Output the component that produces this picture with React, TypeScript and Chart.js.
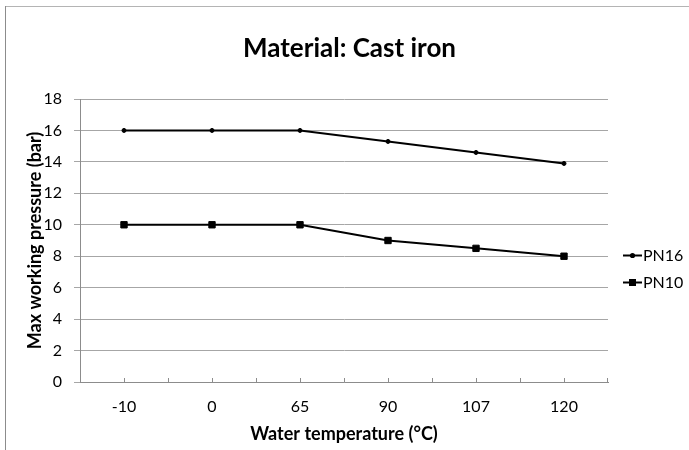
import React, { useEffect, useRef } from 'react';
import { Chart, registerables } from 'chart.js';

Chart.register(...registerables);

const categories = ['-10', '0', '65', '90', '107', '120'];
const pn16 = [16, 16, 16, 15.3, 14.6, 13.9];
const pn10 = [10, 10, 10, 9, 8.5, 8];
const yMin = 0;
const yMax = 18;
const yStep = 2;
const titleText = 'Material: Cast iron';
const xTitle = 'Water temperature (°C)';
const yTitle = 'Max working pressure (bar)';
const seriesNames = ['PN16', 'PN10'];

const FONT = 'Lato, "Open Sans", sans-serif';

const framePlugin = {
  id: 'frame',
  beforeDraw(chart: any) {
    const ctx = chart.ctx;
    ctx.save();
    ctx.fillStyle = '#ffffff';
    ctx.fillRect(0, 0, chart.width, chart.height);
    ctx.strokeStyle = '#b4b4b4';
    ctx.lineWidth = 1;
    ctx.beginPath();
    ctx.moveTo(5, 6.5);
    ctx.lineTo(chart.width, 6.5);
    ctx.stroke();
    ctx.strokeStyle = '#8c8c8c';
    ctx.beginPath();
    ctx.moveTo(5.5, 6);
    ctx.lineTo(5.5, chart.height);
    ctx.stroke();
    ctx.restore();
  },
};

const titlePlugin = {
  id: 'chartTitle',
  afterDraw(chart: any) {
    const ctx = chart.ctx;
    ctx.save();
    ctx.fillStyle = '#000';
    ctx.font = 'bold 26px ' + FONT;
    ctx.textAlign = 'center';
    ctx.textBaseline = 'middle';
    ctx.fillText(titleText, chart.width / 2 + 5, 49);
    ctx.restore();
  },
};

const xTicksPlugin = {
  id: 'xInnerTicks',
  afterDatasetsDraw(chart: any) {
    const ctx = chart.ctx;
    const xs = chart.scales.x;
    const bottom = chart.chartArea.bottom;
    const n = categories.length;
    const half = (xs.getPixelForValue(1) - xs.getPixelForValue(0)) / 2;
    ctx.save();
    ctx.strokeStyle = '#8c8c8c';
    ctx.lineWidth = 1;
    ctx.beginPath();
    for (let i = 0; i < n; i++) {
      const c = Math.round(xs.getPixelForValue(i)) + 0.5;
      ctx.moveTo(c, bottom);
      ctx.lineTo(c, bottom - 4);
      const b = Math.round(xs.getPixelForValue(i) - half) + 0.5;
      ctx.moveTo(b, bottom);
      ctx.lineTo(b, bottom - 4);
    }
    const e = Math.round(xs.getPixelForValue(n - 1) + half) - 0.5;
    ctx.moveTo(e, bottom);
    ctx.lineTo(e, bottom - 4);
    ctx.stroke();
    ctx.restore();
  },
};

const legendPlugin = {
  id: 'customLegend',
  afterDraw(chart: any) {
    const ctx = chart.ctx;
    const area = chart.chartArea;
    const x0 = area.right + 15;
    const rowsY = [area.top + 156, area.top + 183];
    ctx.save();
    chart.data.datasets.forEach((ds: any, i: number) => {
      const y = rowsY[i];
      ctx.strokeStyle = '#000';
      ctx.lineWidth = 2;
      ctx.beginPath();
      ctx.moveTo(x0, y + 0.5);
      ctx.lineTo(x0 + 19, y + 0.5);
      ctx.stroke();
      ctx.fillStyle = '#000';
      const cx = x0 + 9.5;
      if (ds.pointStyle === 'rect') {
        ctx.fillRect(cx - 3.5, y + 0.5 - 3.5, 7, 7);
      } else {
        ctx.beginPath();
        ctx.arc(cx, y + 0.5, 2.6, 0, Math.PI * 2);
        ctx.fill();
      }
      ctx.font = '16px ' + FONT;
      ctx.textBaseline = 'middle';
      ctx.textAlign = 'left';
      ctx.fillText(ds.label, x0 + 20, y + 1);
    });
    ctx.restore();
  },
};

export default function App() {
  const ref = useRef<HTMLCanvasElement | null>(null);

  useEffect(() => {
    if (!ref.current) return;
    const chart = new Chart(ref.current, {
      type: 'line',
      data: {
        labels: categories,
        datasets: [
          {
            label: seriesNames[0],
            data: pn16,
            borderColor: '#000',
            backgroundColor: '#000',
            borderWidth: 2,
            pointStyle: 'circle',
            pointRadius: 2,
            pointBorderWidth: 1,
            pointBackgroundColor: '#000',
            pointBorderColor: '#000',
            tension: 0,
          },
          {
            label: seriesNames[1],
            data: pn10,
            borderColor: '#000',
            backgroundColor: '#000',
            borderWidth: 2,
            pointStyle: 'rect',
            pointRadius: 4.5,
            pointBorderWidth: 1,
            pointBackgroundColor: '#000',
            pointBorderColor: '#000',
            tension: 0,
          },
        ],
      },
      options: {
        responsive: false,
        animation: false,
        layout: { padding: { top: 99, left: 0, right: 81, bottom: 0 } },
        plugins: {
          legend: { display: false },
          tooltip: { enabled: false },
          title: { display: false },
        },
        scales: {
          x: {
            type: 'category',
            offset: true,
            grid: { display: true, drawOnChartArea: false, drawTicks: false, color: '#8c8c8c' },
            border: { display: true, color: '#8c8c8c', width: 1 },
            ticks: {
              color: '#000',
              font: { family: FONT, size: 16 },
              padding: 15,
              maxRotation: 0,
              autoSkip: false,
            },
            title: {
              display: true,
              text: xTitle,
              color: '#000',
              font: { family: FONT, size: 18, weight: 'bold' },
              padding: { top: 0, bottom: 5 },
            },
            afterFit(scale: any) {
              scale.height = 68;
            },
          },
          y: {
            min: yMin,
            max: yMax,
            grid: { color: '#a6a6a6', tickLength: 6, lineWidth: 1 },
            border: { display: true, color: '#8c8c8c', width: 1 },
            ticks: {
              stepSize: yStep,
              color: '#000',
              font: { family: FONT, size: 16 },
              padding: 12,
            },
            title: {
              display: true,
              text: yTitle,
              color: '#000',
              font: { family: FONT, size: 18, weight: 'bold' },
              padding: { top: 24, bottom: 0 },
            },
            afterFit(scale: any) {
              scale.width = 80;
            },
          },
        },
      },
      plugins: [framePlugin, xTicksPlugin, legendPlugin, titlePlugin],
    } as any);
    return () => chart.destroy();
  }, []);

  return (
    <div style={{ position: 'fixed', left: 0, top: 0, width: 689, height: 450, overflow: 'hidden', background: '#fff' }}>
      <canvas ref={ref} width={689} height={450} style={{ display: 'block', width: 689, height: 450 }} />
    </div>
  );
}
